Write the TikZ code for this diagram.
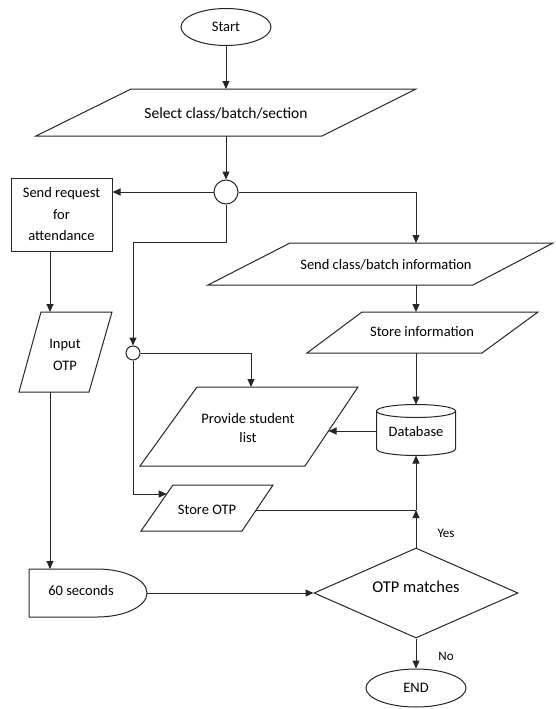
\documentclass[tikz,border=0pt]{standalone}
\usepackage{fontspec}
\setmainfont{Carlito}
\usetikzlibrary{arrows.meta,shapes.geometric}
\begin{document}
\begin{tikzpicture}[x=1pt,y=1pt,
 shp/.style={draw=black!85,line width=1pt,fill=white},
 conn/.style={draw=black!85,line width=1pt},
 arr/.style={conn,-{Triangle[length=8pt,width=7pt]}},
 txt/.style={align=center,inner sep=0pt,font=\fontsize{14.5}{21.5}\selectfont},
 lbl/.style={inner sep=0pt,font=\fontsize{13}{15}\selectfont}]
\useasboundingbox (0,0) rectangle (555,-709);

% Start
\node[shp,ellipse,txt,minimum width=90pt,minimum height=37pt] (start) at (226,-27) {Start};

% Select
\draw[shp] (36,-136) -- (131,-89) -- (416,-89) -- (322,-136) -- cycle;
\node[txt,font=\fontsize{15.5}{18}\selectfont] (select) at (226,-113) {Select class/batch/section};
\coordinate (selN) at (226,-89);
\coordinate (selS) at (226,-136);

% junction circle
\node[shp,circle,minimum size=24pt,inner sep=0pt] (c1) at (226,-192) {};

% Send request
\node[shp,txt,minimum width=101pt,minimum height=73pt] (req) at (61.5,-214.5) {Send request\\for\\attendance};
\coordinate (reqS) at (50,-251);

% Send class/batch information
\draw[shp] (208,-285) -- (290,-243) -- (553,-243) -- (473,-285) -- cycle;
\node[txt] (info) at (386,-265) {Send class/batch information};
\coordinate (infoN) at (416,-243);
\coordinate (infoS) at (416,-285);

% Store information
\draw[shp] (307,-353) -- (362,-312) -- (538,-312) -- (482,-353) -- cycle;
\node[txt] (sinfo) at (422,-332) {Store information};
\coordinate (sinfoN) at (416,-312);
\coordinate (sinfoS) at (416,-353);

% Database
\draw[shp] (376.5,-411) -- (376.5,-449) arc[start angle=180,end angle=360,x radius=39.5pt,y radius=6.5pt] -- (455.5,-411);
\draw[shp] (416,-411) ellipse [x radius=39.5pt,y radius=6.5pt];
\node[txt] (db) at (416,-432) {Database};
\coordinate (dbN) at (416,-404.5);
\coordinate (dbS) at (416,-455.5);
\coordinate (dbW) at (376.5,-431);

% Provide student list
\draw[shp] (140,-466) -- (197,-387) -- (358,-387) -- (305,-466) -- cycle;
\node[txt,font=\fontsize{14.5}{19}\selectfont] (prov) at (248,-428) {Provide student\\list};
\coordinate (provN) at (251,-387);
\coordinate (provE) at (328.5,-431);

% small circle
\node[shp,circle,minimum size=14pt,inner sep=0pt] (c2) at (133,-353) {};

% Store OTP
\draw[shp] (141,-531) -- (173,-485) -- (273,-485) -- (242,-531) -- cycle;
\node[txt] (sotp) at (207,-510) {Store OTP};
\coordinate (sotpW) at (166.7,-494);
\coordinate (sotpE) at (256,-510);

% Input OTP
\draw[shp] (19,-392) -- (41,-312) -- (112,-312) -- (89,-392) -- cycle;
\node[txt] (inp) at (65,-355) {Input\\OTP};
\coordinate (inpN) at (50,-312);
\coordinate (inpS) at (50,-392);

% 60 seconds (delay)
\draw[shp] (29,-569) -- (97,-569) arc[start angle=90,end angle=-90,x radius=50pt,y radius=24pt] -- (29,-617) -- cycle;
\node[txt] (delay) at (81,-591) {60 seconds};
\coordinate (delN) at (50,-569);
\coordinate (delE) at (147,-593);

% Decision
\node[shp,diamond,minimum width=204pt,minimum height=90pt,inner sep=0pt] (dec) at (416,-593) {};
\node[txt,font=\fontsize{16.5}{20}\selectfont] (dect) at (416,-587) {OTP matches};

% END
\node[shp,ellipse,txt,minimum width=100pt,minimum height=38pt] (end) at (416,-688) {END};

\coordinate (jn) at (416,-510);

% connectors
\draw[arr] (start.south) -- (selN);
\draw[arr] (selS) -- (c1.north);
\draw[arr] (c1.west) -- (c1.west -| req.east);
\draw[arr] (c1.east) -| (infoN);
\draw[arr] (infoS) -- (sinfoN);
\draw[arr] (sinfoS) -- (dbN);
\draw[arr] (dbW) -- (provE);
\draw[arr] (c1.south) -- ++(0,-38) -| (c2.north);
\draw[arr] (c2.east) -| (provN);
\draw[arr] (c2.south) |- (sotpW);
\draw[conn] (sotpE) -- (jn);
\draw[arr] (dec.north) -- (jn);
\draw[arr] (jn) -- (dbS);
\draw[arr] (reqS) -- (inpN);
\draw[arr] (inpS) -- (delN);
\draw[arr] (delE) -- (dec.west);
\draw[arr] (dec.south) -- (end.north);

\node[lbl] (yes) at (446,-533) {Yes};
\node[lbl] (no) at (446,-656) {No};
\end{tikzpicture}
\end{document}
